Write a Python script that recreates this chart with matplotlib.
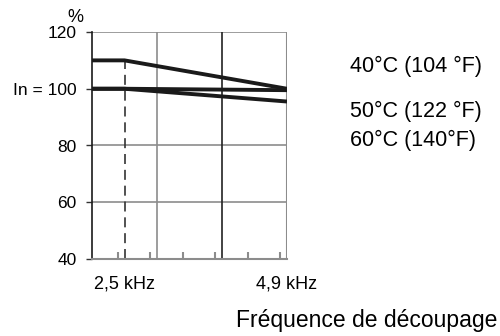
import matplotlib.pyplot as plt
from matplotlib.ticker import MultipleLocator

plt.rcParams['font.family'] = ['Liberation Sans', 'DejaVu Sans']

# switching frequency (kHz) and current derating (%)
freq = [2.02, 2.5, 4.9]
curve_40 = [110, 110, 100]
curve_50 = [100, 100, 99.5]
curve_60 = [100, 100, 95.5]
labels = ['40°C (104 °F)', '50°C (122 °F)', '60°C (140°F)']
yticks = [40, 60, 80, 100, 120]
ytick_labels = ['40', '60', '80', 'In = 100', '120']
xticks = [2.5, 4.9]
xtick_labels = ['2,5 kHz', '4,9 kHz']

fig = plt.figure(figsize=(5, 3.36), dpi=100)
ax = fig.add_axes([92/500, 1 - 259/336, 195/500, 227/336])

ax.set_xlim(2.02, 4.9)
ax.set_ylim(40, 120)

grey = '#8c8c8c'
for y in [60, 80, 120]:
    ax.axhline(y, color=grey, lw=1.2, zorder=1)
ax.axvline(2.98, color=grey, lw=1.2, zorder=1)
ax.axvline(3.94, color='#222222', lw=1.2, zorder=1)
ax.axvline(4.9, color=grey, lw=1.5, zorder=1)
ax.plot([2.5, 2.5], [40, 110], color='#333333', lw=1.2, dashes=(6, 3.5), zorder=1)

for s in [curve_40, curve_50, curve_60]:
    ax.plot(freq, s, color='#1a1a1a', lw=2.8, solid_capstyle='butt', zorder=3)

for sp in ['top', 'right']:
    ax.spines[sp].set_visible(False)
ax.spines['left'].set_color('#1a1a1a')
ax.spines['left'].set_linewidth(1.2)
ax.spines['bottom'].set_color(grey)
ax.spines['bottom'].set_linewidth(1.5)

ax.set_yticks(yticks)
ax.set_yticklabels(ytick_labels, fontsize=12.5)
ax.tick_params(axis='y', length=4, width=1, color='#333333', pad=7)
ax.set_xticks(xticks)
ax.set_xticklabels(xtick_labels, fontsize=13)
ax.xaxis.set_minor_locator(MultipleLocator(0.48))
ax.tick_params(axis='x', which='both', direction='in', length=0, pad=12)
ax.tick_params(axis='x', which='minor', length=5, width=1.5, color=grey)

fig.text(75/500, 1 - 17/336, '%', fontsize=13, ha='center', va='center')
for lab, y in zip(labels, [66, 111, 140]):
    fig.text(350/500, 1 - y/336, lab, fontsize=15.5, ha='left', va='center')
fig.text(497/500, 1 - 320/336, 'Fréquence de découpage', fontsize=16.5, ha='right', va='center')

fig.savefig('out.png', dpi=100)
